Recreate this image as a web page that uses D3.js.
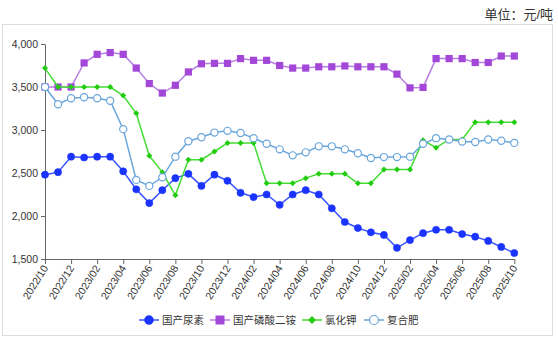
<!DOCTYPE html>
<html><head><meta charset="utf-8">
<script src="https://cdn.jsdelivr.net/npm/d3@7"></script>
<style>body{margin:0;background:#fff;}svg{display:block;font-family:"Liberation Sans","Noto Sans CJK SC",sans-serif;}</style>
</head><body><svg id="c" width="558" height="341"></svg>
<script>
const months = [];
for (let y = 2022, m = 10; y < 2025 || (y === 2025 && m <= 10); ) {
  months.push(y + "/" + String(m).padStart(2, "0"));
  m++; if (m > 12) { m = 1; y++; }
}
const seriesNames = ["国产尿素", "国产磷酸二铵", "氯化钾", "复合肥"];
const urea = [2480,2510,2690,2680,2690,2690,2520,2310,2150,2300,2440,2490,2350,2480,2410,2270,2220,2250,2130,2250,2300,2250,2090,1930,1860,1810,1780,1630,1720,1800,1840,1840,1790,1760,1710,1640,1570];
const dap = [3500,3500,3500,3780,3880,3900,3880,3720,3540,3430,3520,3675,3770,3775,3775,3830,3810,3810,3750,3720,3720,3735,3735,3745,3735,3735,3735,3650,3490,3495,3830,3830,3830,3785,3785,3860,3860];
const potash = [3720,3500,3500,3500,3500,3500,3400,3195,2700,2510,2240,2655,2655,2750,2850,2850,2850,2380,2380,2380,2440,2490,2490,2490,2380,2380,2540,2540,2540,2880,2795,2890,2890,3090,3090,3090,3090];
const compound = [3500,3300,3370,3380,3370,3340,3010,2420,2350,2450,2690,2870,2915,2970,2990,2965,2905,2840,2775,2705,2740,2810,2810,2775,2730,2675,2685,2685,2690,2840,2905,2890,2865,2860,2890,2875,2850];
const yTicks = [1500, 2000, 2500, 3000, 3500, 4000];
const unitLabel = "单位：元/吨";

const svg = d3.select("#c");
const L = 45, R = 514.3, T = 44, B = 259;
const x = d3.scalePoint().domain(months).range([L, R]);
const y = d3.scaleLinear().domain([1500, 4000]).range([B, T]);

// frame
svg.append("rect").attr("x", 2.5).attr("y", 24.5).attr("width", 550).attr("height", 311)
  .attr("fill", "none").attr("stroke", "#dcdcdc").attr("stroke-width", 1);

svg.append("text").attr("x", 553).attr("y", 19).attr("text-anchor", "end")
  .attr("font-size", 13).attr("fill", "#333").text(unitLabel);

// axes
const yAxis = svg.append("g").attr("transform", `translate(${L},0)`)
  .call(d3.axisLeft(y).tickValues(yTicks).tickSize(4).tickSizeOuter(0).tickFormat(d3.format(",")));
yAxis.select(".domain").attr("stroke", "#666");
yAxis.selectAll(".tick line").attr("stroke", "#666");
yAxis.selectAll("text").attr("font-size", 10.5).attr("fill", "#333").attr("font-family", "inherit");

const xAxis = svg.append("g").attr("transform", `translate(0,${B})`)
  .call(d3.axisBottom(x).tickValues(months.filter((d, i) => i % 2 === 0)).tickSize(5).tickSizeOuter(0));
xAxis.select(".domain").attr("stroke", "#666");
xAxis.selectAll(".tick line").attr("stroke", "#666");
xAxis.selectAll("text").attr("font-size", 10.5).attr("fill", "#333").attr("font-family", "inherit")
  .attr("text-anchor", "end").attr("dy", null).attr("y", 0)
  .attr("transform", "translate(3,9) rotate(-58)");

const defs = [
  {name: seriesNames[0], data: urea, line: "#3a55ff", fill: "#1a33ff", stroke: "#1a33ff", shape: "circle", r: 3.6},
  {name: seriesNames[1], data: dap, line: "#b77ee3", fill: "#a347d9", stroke: "#a347d9", shape: "square", r: 3.6},
  {name: seriesNames[2], data: potash, line: "#44dd33", fill: "#22cc11", stroke: "#22cc11", shape: "diamond", r: 3},
  {name: seriesNames[3], data: compound, line: "#6aa6dc", fill: "#ffffff", stroke: "#6aa6dc", shape: "circle", r: 3.6}
];

function marker(g, s, cx, cy) {
  if (s.shape === "circle") {
    g.append("circle").attr("cx", cx).attr("cy", cy).attr("r", s.r)
      .attr("fill", s.fill).attr("stroke", s.stroke).attr("stroke-width", s.fill === "#ffffff" ? 1.2 : 0.5);
  } else if (s.shape === "square") {
    g.append("rect").attr("x", cx - s.r).attr("y", cy - s.r).attr("width", s.r * 2).attr("height", s.r * 2)
      .attr("fill", s.fill);
  } else {
    g.append("path").attr("d", `M${cx},${cy - s.r}L${cx + s.r},${cy}L${cx},${cy + s.r}L${cx - s.r},${cy}Z`)
      .attr("fill", s.fill);
  }
}

const line = d3.line().x((d, i) => x(months[i])).y(d => y(d));
defs.forEach(s => {
  const g = svg.append("g");
  g.append("path").datum(s.data).attr("d", line).attr("fill", "none")
    .attr("stroke", s.line).attr("stroke-width", 1.5);
  s.data.forEach((v, i) => marker(g, s, x(months[i]), y(v)));
});

// legend
const legX = [149, 220, 312, 374];
const lg = svg.append("g");
defs.forEach((s, i) => {
  const cx = legX[i], cy = 320;
  lg.append("line").attr("x1", cx - 10).attr("x2", cx + 10).attr("y1", cy).attr("y2", cy)
    .attr("stroke", s.line).attr("stroke-width", 1.5);
  marker(lg, Object.assign({}, s, {r: s.shape === "diamond" ? 4 : 4.5}), cx, cy);
  lg.append("text").attr("x", cx + 13).attr("y", cy + 4).attr("font-size", 10.5).attr("fill", "#333").text(s.name);
});
</script></body></html>
